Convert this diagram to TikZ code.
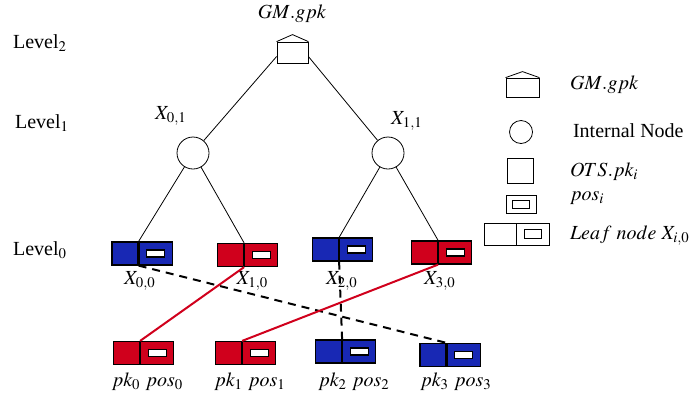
\documentclass[tikz,border=0pt]{standalone}
\usepackage{mathptmx}
\usepackage{fontspec}
\setmainfont{Liberation Serif}
\usetikzlibrary{positioning}
\definecolor{leafblue}{RGB}{24,40,180}
\definecolor{leafred}{RGB}{208,0,28}
\tikzset{
  inode/.style={draw, circle, minimum size=16pt, inner sep=0pt},
  gpkbox/.style={draw, rectangle, minimum width=15.5pt, minimum height=10.5pt, inner sep=0pt},
  pkbox/.style={draw, line width=0.6pt, rectangle, minimum width=13pt, minimum height=11.5pt, inner sep=0pt},
  posbox/.style={draw, line width=0.6pt, rectangle, minimum width=16.5pt, minimum height=11.5pt, inner sep=0pt,
    label={[draw, line width=0.6pt, fill=white, minimum width=9pt, minimum height=3.5pt, inner sep=0pt]center:{}}},
  redlink/.style={leafred, line width=1pt},
  dashlink/.style={line width=1pt, dash pattern=on 4pt off 3pt},
}
\begin{document}
\begin{tikzpicture}[x=0.5pt,y=-0.5pt]
\useasboundingbox (0,0) rectangle (699,398);
% levels
\node (lv2) at (40,43) {Level$_2$};
\node (lv1) at (42,123) {Level$_1$};
\node (lv0) at (40,250) {Level$_0$};
% root and internal nodes
\node[gpkbox] (gm) at (292.5,52.5) {};
\draw (gm.north west) -- ([yshift=3.5pt]gm.north) -- (gm.north east);
\node (gmlab) at (292,14) {$GM.gpk$};
\node[inode] (n01) at (193,153) {};
\node[inode] (n11) at (388,153) {};
\node (x01) at (171,116) {$X_{0,1}$};
\node (x11) at (407,121) {$X_{1,1}$};
% leaves
\node[pkbox, fill=leafblue] (k0) at (125,253.5) {};
\node[posbox, fill=leafblue, right=0pt of k0] (p0) {};
\node[pkbox, fill=leafred] (k1) at (230.5,255) {};
\node[posbox, fill=leafred, right=0pt of k1] (p1) {};
\node[pkbox, fill=leafblue] (k2) at (325.5,249.5) {};
\node[posbox, fill=leafblue, right=0pt of k2] (p2) {};
\node[pkbox, fill=leafred] (k3) at (424.5,252.5) {};
\node[posbox, fill=leafred, right=0pt of k3] (p3) {};
\node (x00) at (140,281) {$X_{0,0}$};
\node (x10) at (252.5,281) {$X_{1,0}$};
\node (x20) at (342,281) {$X_{2,0}$};
\node (x30) at (440,281) {$X_{3,0}$};
% permuted leaves
\node[pkbox, fill=leafred] (b0) at (126.5,353) {};
\node[posbox, fill=leafred, right=0pt of b0] (q0) {};
\node[pkbox, fill=leafred] (b1) at (228.5,353) {};
\node[posbox, fill=leafred, right=0pt of b1] (q1) {};
\node[pkbox, fill=leafblue] (b2) at (328.5,351.5) {};
\node[posbox, fill=leafblue, right=0pt of b2] (q2) {};
\node[pkbox, fill=leafblue] (b3) at (433,355) {};
\node[posbox, fill=leafblue, right=0pt of b3] (q3) {};
\node (pk0) at (147.5,382) {$pk_0\ pos_0$};
\node (pk1) at (250,382) {$pk_1\ pos_1$};
\node (pk2) at (354,382) {$pk_2\ pos_2$};
\node (pk3) at (456,382) {$pk_3\ pos_3$};
% tree edges
\draw ([yshift=-2pt]gm.west) -- (n01);
\draw ([yshift=-2pt]gm.east) -- (n11);
\draw (n01) -- (k0.north east);
\draw (n01) -- (k1.north east);
\draw (n11) -- (k2.north east);
\draw (n11) -- (k3.north east);
% shuffle
\draw[dashlink] (k0.south east) -- (b3.north east);
\draw[dashlink] (k2.south east) -- (b2.north east);
\draw[redlink] (k1.south east) -- (b0.north east);
\draw[redlink] (k3.south east) -- (b1.north east);
% legend
\node[gpkbox, minimum width=16.5pt, minimum height=9.5pt] (lgm) at (522.5,87.5) {};
\draw (lgm.north west) -- ([yshift=3pt]lgm.north) -- (lgm.north east);
\node[anchor=west] (lgmtxt) at (563,85) {$GM.gpk$};
\node[inode, minimum size=11.5pt] (lint) at (521,132) {};
\node[anchor=west] (linttxt) at (566,131) {Internal Node};
\node[pkbox, line width=0.4pt, minimum width=13pt, minimum height=12.5pt] (lpk) at (520,170.5) {};
\node[anchor=west] (lpktxt) at (563,172) {$OTS.pk_i$};
\node[draw, minimum width=15pt, minimum height=9pt, inner sep=0pt,
  label={[draw, minimum width=8.5pt, minimum height=4pt, inner sep=0pt]center:{}}] (lpos) at (521,204) {};
\node[anchor=west] (lpostxt) at (563,198) {$pos_i$};
\node[draw, minimum width=16pt, minimum height=11pt, inner sep=0pt] (lk) at (500,234) {};
\node[draw, minimum width=16.5pt, minimum height=11pt, inner sep=0pt, right=0pt of lk,
  label={[draw, minimum width=8.5pt, minimum height=4.5pt, inner sep=0pt]center:{}}] (lp) {};
\node[anchor=west] (lktxt) at (563,236) {$Leaf\ node\ X_{i,0}$};
\end{tikzpicture}
\end{document}
